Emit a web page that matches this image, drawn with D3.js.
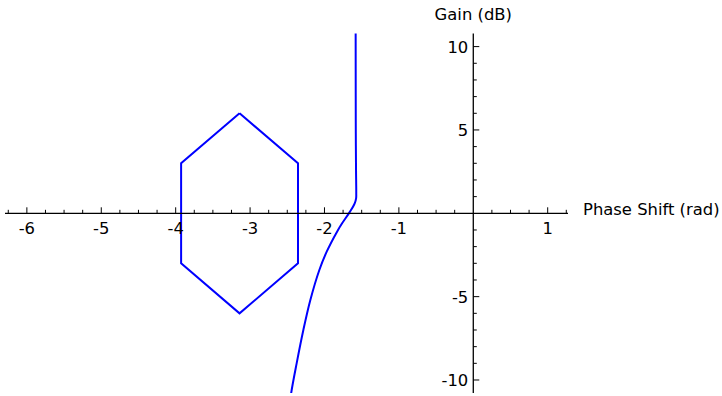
<!DOCTYPE html>
<html>
<head>
<meta charset="utf-8">
<script src="https://cdn.jsdelivr.net/npm/d3@7"></script>
<style>
  html, body { margin: 0; padding: 0; background: #fff; }
  svg { display: block; font-family: "DejaVu Sans", sans-serif; }
</style>
</head>
<body>
<svg id="chart" width="722" height="396"></svg>
<script>
// Nichols-style plot: open-loop response plus the hexagonal exclusion region
const curvePhase = [-1.581, -1.581, -1.580, -1.579, -1.576, -1.573, -1.575, -1.594, -1.657, -1.763, -1.831, -1.970, -2.069, -2.190, -2.284, -2.374, -2.448, -2.460];
const curveGain  = [11.5, 10.76, 7.0, 4.8, 2.6, 1.2, 0.9, 0.6, 0.1, -0.6, -1.1, -2.3, -3.4, -5.2, -7.0, -9.0, -10.8, -11.3];

const hexPhase = [-Math.PI, -Math.PI + Math.PI / 4, -Math.PI + Math.PI / 4, -Math.PI, -Math.PI - Math.PI / 4, -Math.PI - Math.PI / 4, -Math.PI];
const hexGain  = [6, 3, -3, -6, -3, 3, 6];

const xMajorTicks = [-6, -5, -4, -3, -2, -1, 1];
const yMajorTicks = [-10, -5, 5, 10];
const xLabel = "Phase Shift (rad)";
const yLabel = "Gain (dB)";

const svg = d3.select("#chart");
const x = d3.scaleLinear().domain([-6.294, 1.273]).range([5, 568]);
const y = d3.scaleLinear().domain([-10.78, 10.78]).range([393, 33.6]);

svg.append("defs").append("clipPath").attr("id", "plotClip")
  .append("rect")
  .attr("x", x.range()[0]).attr("y", y.range()[1])
  .attr("width", x.range()[1] - x.range()[0])
  .attr("height", y.range()[0] - y.range()[1]);

const plot = svg.append("g").attr("clip-path", "url(#plotClip)");

const line = d3.line()
  .x(d => x(d[0])).y(d => y(d[1]));

plot.append("path")
  .datum(hexPhase.map((p, i) => [p, hexGain[i]]))
  .attr("d", line)
  .attr("fill", "none").attr("stroke", "#0000ff").attr("stroke-width", 2)
  .attr("stroke-linejoin", "miter");

plot.append("path")
  .datum(curvePhase.map((p, i) => [p, curveGain[i]]))
  .attr("d", line.curve(d3.curveCatmullRom))
  .attr("fill", "none").attr("stroke", "#0000ff").attr("stroke-width", 2);

// axes crossing at the origin
const x0 = x(0), y0 = y(0);
const axes = svg.append("g").attr("stroke", "#000");

axes.append("line")
  .attr("x1", x.range()[0]).attr("x2", x.range()[1])
  .attr("y1", y0).attr("y2", y0).attr("stroke-width", 1.3);
axes.append("line")
  .attr("x1", x0).attr("x2", x0)
  .attr("y1", y.range()[1]).attr("y2", y.range()[0]).attr("stroke-width", 1.3);

// x ticks point upward from the axis
const xMinor = d3.range(-6.25, 1.26, 0.25).filter(v => Math.abs(v - Math.round(v)) > 1e-6);
axes.selectAll(".xmaj").data(xMajorTicks).join("line")
  .attr("x1", d => x(d)).attr("x2", d => x(d))
  .attr("y1", y0).attr("y2", y0 - 6).attr("stroke-width", 1);
axes.selectAll(".xmin").data(xMinor).join("line")
  .attr("x1", d => x(d)).attr("x2", d => x(d))
  .attr("y1", y0).attr("y2", y0 - 3.5).attr("stroke-width", 1);

// y ticks point right from the axis
const yMinor = d3.range(-10, 11, 1).filter(v => v !== 0 && v % 5 !== 0);
axes.selectAll(".ymaj").data(yMajorTicks).join("line")
  .attr("x1", x0).attr("x2", x0 + 6)
  .attr("y1", d => y(d)).attr("y2", d => y(d)).attr("stroke-width", 1);
axes.selectAll(".ymin").data(yMinor).join("line")
  .attr("x1", x0).attr("x2", x0 + 3.5)
  .attr("y1", d => y(d)).attr("y2", d => y(d)).attr("stroke-width", 1);

const labels = svg.append("g").attr("font-size", 16.4).attr("fill", "#000");
labels.selectAll(".xl").data(xMajorTicks).join("text")
  .attr("x", d => x(d)).attr("y", y0 + 21)
  .attr("text-anchor", "middle")
  .text(d => d);
labels.selectAll(".yl").data(yMajorTicks).join("text")
  .attr("x", x0 - 5).attr("y", d => y(d) + 6)
  .attr("text-anchor", "end")
  .text(d => d);

labels.append("text").attr("x", 583).attr("y", y0 + 2)
  .text(xLabel);
labels.append("text").attr("x", x0).attr("y", 20)
  .attr("text-anchor", "middle")
  .text(yLabel);
</script>
</body>
</html>
